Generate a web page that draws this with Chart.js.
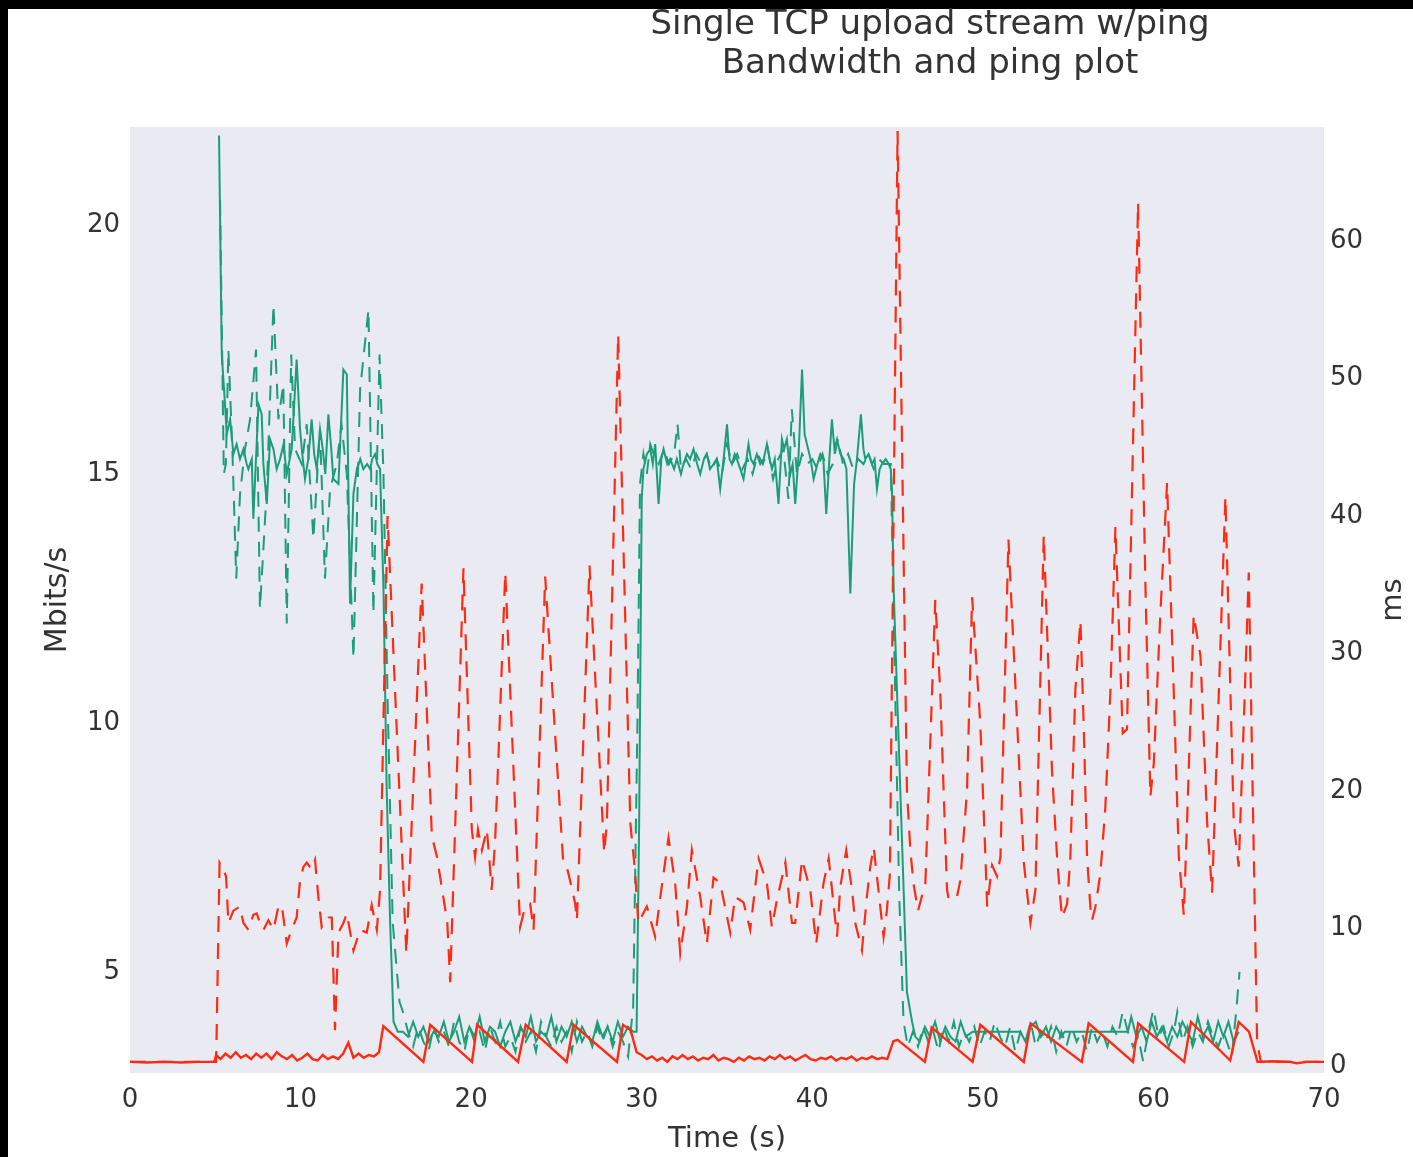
<!DOCTYPE html>
<html>
<head>
<meta charset="utf-8">
<script src="https://cdn.jsdelivr.net/npm/chart.js@4.4.1/dist/chart.umd.min.js"></script>
<style>
  body { margin: 0; background: #fff; }
  #frame { position: relative; width: 1413px; height: 1157px; background: #000; overflow: hidden; }
  #inner { position: absolute; left: 8px; top: 9px; width: 1405px; height: 1148px; background: #fff; }
  #title { position: absolute; left: 530px; top: 3px; width: 800px; text-align: center;
           font: 34px 'DejaVu Sans', sans-serif; line-height: 39px; color: #333; z-index: 2; }
</style>
</head>
<body>
<div id="frame">
  <div id="title">Single TCP upload stream w/ping<br>Bandwidth and ping plot</div>
  <div id="inner"><canvas id="c" width="1405" height="1148"></canvas></div>
</div>
<script>
// tick labels
const xTicks = [0, 10, 20, 30, 40, 50, 60, 70];
const bwTicks = [5, 10, 15, 20];
const pingTicks = [0, 10, 20, 30, 40, 50, 60];

// bandwidth, solid line (Mbits/s)
const bwSolidT = [5.22,5.38,5.57,5.67,5.87,6.06,6.25,6.45,6.65,6.84,6.94,7.14,7.23,7.53,7.72,7.82,8.02,8.21,8.41,8.6,8.8,9.0,9.19,9.48,9.77,9.97,10.1,10.26,10.45,10.65,10.8,10.95,11.14,11.3,11.45,11.63,11.8,11.92,12.22,12.51,12.71,12.9,13.1,13.3,13.5,13.68,13.9,14.08,14.2,14.37,14.5,14.66,14.86,15.05,15.25,15.45,15.7,
  16.0,16.3,16.6,16.9,17.2,17.5,17.8,18.1,18.4,18.7,19.0,19.3,19.6,19.9,20.2,20.5,20.8,21.1,21.4,21.7,22.0,22.3,22.6,22.9,23.2,23.5,23.8,24.1,24.4,24.7,25.0,25.3,25.6,25.9,26.2,26.5,26.8,27.1,27.4,27.7,28.0,28.3,28.6,28.9,29.2,29.5,29.7,29.85,30.0,
  30.1,30.3,30.5,30.65,30.79,30.99,31.15,31.28,31.5,31.67,31.9,32.06,32.3,32.45,32.65,32.84,33.04,33.25,33.43,33.65,33.82,34.0,34.21,34.4,34.6,34.8,35.0,35.15,35.29,35.45,35.58,35.78,35.97,36.1,36.26,36.4,36.56,36.75,36.95,37.15,37.34,37.5,37.64,37.8,38.02,38.22,38.35,38.51,38.71,38.85,39.0,39.2,39.4,39.55,39.69,39.9,40.08,40.3,40.47,40.65,40.82,41.0,41.15,41.3,41.45,41.65,41.84,42.0,42.23,42.45,42.62,42.85,43.0,43.11,43.3,43.5,43.65,43.79,43.95,44.09,44.3,44.48,44.6,44.67,
  44.77,44.96,45.16,45.36,45.55,45.85,46.04,
  46.3,46.6,46.9,47.2,47.5,47.8,48.1,48.4,48.7,49.0,49.4,52.2,52.5,52.8,53.1,53.4,53.7,54.0,54.3,54.6,54.8,58.5,58.7,59.0,59.3,59.6,59.9,60.2,60.5,60.8,61.1,61.4,61.7,62.0,62.3,62.6,62.9,63.2,63.5,63.8,64.1,64.4,64.7,65.0];
const bwSolidV = [21.8,17.4,16.4,15.8,16.1,15.4,15.6,15.3,15.5,15.2,15.1,15.3,14.1,16.4,16.2,15.2,14.4,15.7,15.5,15.1,15.3,15.6,15.0,15.5,17.3,15.9,15.4,14.9,15.3,16.1,15.4,15.1,15.9,15.5,15.0,16.2,15.5,14.9,14.8,17.1,17.0,12.4,14.6,15.1,15.3,15.1,15.2,15.1,15.3,15.4,15.2,15.1,12.7,8.65,6.0,4.0,3.8,
  3.8,3.7,4.0,3.7,3.9,3.6,3.8,3.7,4.0,3.6,3.8,4.1,3.6,3.9,3.7,4.1,3.6,3.9,3.8,3.5,3.8,4.0,3.6,3.9,3.7,4.1,3.6,3.8,3.7,4.1,3.6,3.9,3.7,4.0,3.6,3.9,3.7,3.6,4.0,3.7,3.9,3.6,4.0,3.7,3.9,3.8,3.8,8.0,14.5,
  15.1,15.4,15.5,15.2,15.6,14.4,15.3,15.5,15.2,15.3,15.1,15.3,15.0,15.2,15.4,15.3,15.5,15.2,15.0,15.3,15.4,15.1,15.2,15.3,14.7,15.3,16.0,15.3,15.2,15.4,15.3,15.1,14.9,15.2,15.6,15.3,15.2,15.4,15.2,15.3,15.6,15.3,15.1,15.3,14.4,15.7,15.5,15.7,15.0,15.2,14.4,15.4,17.1,15.8,15.6,15.3,14.9,15.2,15.4,15.3,14.2,15.3,16.1,15.5,15.7,15.4,15.3,15.1,12.6,14.8,15.3,16.2,15.5,15.3,15.4,15.2,15.3,14.7,15.1,15.2,15.3,15.2,15.1,14.7,
  12.7,10.7,8.65,6.6,4.6,4.0,3.7,
  3.6,3.9,3.7,4.0,3.6,3.9,3.7,3.6,4.0,3.7,3.8,3.8,3.6,3.9,4.0,3.7,3.9,3.6,3.9,3.7,3.8,3.8,4.1,3.7,3.9,3.6,4.0,3.7,3.9,3.6,3.9,3.7,4.0,3.8,3.6,4.1,3.7,3.9,3.6,4.0,3.7,4.0,3.6,3.8];

// bandwidth, dashed line (Mbits/s)
const bwDashT = [5.28,5.5,5.62,5.77,6.0,6.23,6.45,6.74,7.04,7.39,7.62,8.02,8.41,8.7,8.99,9.19,9.45,9.68,10.07,10.36,10.75,11.14,11.43,11.73,12.12,12.4,12.71,13.1,13.49,13.98,14.27,14.63,14.86,15.1,15.4,15.8,16.0,
  16.3,16.6,16.9,17.2,17.5,17.8,18.1,18.4,18.7,19.0,19.3,19.6,19.9,20.2,20.5,20.8,21.1,21.4,21.7,22.0,22.3,22.6,22.9,23.2,23.5,23.8,24.1,24.4,24.7,25.0,25.3,25.6,25.9,26.2,26.5,26.8,27.1,27.4,27.7,28.0,28.3,28.6,28.9,29.2,29.5,29.75,29.9,
  30.1,30.3,30.5,30.7,31.0,31.3,31.6,31.9,32.1,32.3,32.6,32.9,33.2,33.5,33.8,34.1,34.4,34.7,35.0,35.3,35.6,35.9,36.2,36.5,36.8,37.1,37.4,37.7,38.0,38.3,38.6,38.8,39.1,39.4,39.7,40.0,40.3,40.6,40.9,41.2,41.5,41.8,42.1,42.4,42.7,43.0,43.3,43.6,43.9,44.2,44.6,
  44.75,45.1,45.35,45.6,
  45.9,46.2,46.5,46.8,47.1,47.4,47.7,48.0,48.3,48.6,48.9,49.2,49.5,49.8,50.1,50.4,50.7,51.0,51.3,51.6,51.9,52.2,52.5,52.8,53.1,53.4,53.7,54.0,54.3,54.6,54.9,55.2,55.5,55.8,56.1,56.4,56.7,57.0,57.3,57.6,57.9,58.2,58.5,58.8,59.1,59.4,59.7,60.0,60.3,60.6,60.9,61.2,61.4,61.7,62.0,62.3,62.6,62.9,63.2,63.5,63.8,64.1,64.4,64.6,64.85,65.05];
const bwDashV = [20.5,15.0,15.2,17.5,15.5,12.9,14.6,15.5,16.1,17.5,12.3,14.7,18.4,16.1,16.8,12.0,17.4,15.5,15.2,16.0,13.7,15.9,12.9,14.7,15.2,16.0,15.0,11.3,16.7,18.3,12.2,17.4,15.0,10.5,6.0,4.4,4.2,
  3.8,3.5,3.9,3.6,3.4,3.9,3.6,3.8,3.5,4.0,3.6,3.4,3.9,3.6,3.8,3.4,3.9,3.6,4.0,3.5,3.7,3.4,3.9,3.6,3.8,3.4,4.0,3.7,3.5,3.9,3.6,3.8,3.4,4.0,3.6,3.8,3.5,3.9,3.6,3.9,3.5,3.8,3.6,3.3,4.3,10.0,14.8,
  15.4,15.0,15.6,15.4,15.2,15.5,15.2,15.4,16.0,15.1,15.3,15.1,15.4,15.2,15.4,15.1,15.3,15.0,15.6,15.2,15.4,15.1,15.3,15.0,15.4,15.2,15.5,14.9,15.3,15.5,14.5,16.3,15.0,15.4,15.2,15.3,15.1,15.4,15.0,15.2,15.7,15.2,15.4,15.1,15.3,15.2,15.4,15.1,15.3,15.2,15.2,
  12.5,6.5,4.0,3.5,
  3.8,3.5,3.9,3.6,3.8,3.4,3.9,3.6,4.0,3.5,3.8,3.6,3.9,3.5,3.8,3.6,4.0,3.7,3.5,3.9,3.4,3.8,3.6,4.0,3.5,3.8,3.6,3.9,3.4,3.8,3.5,3.9,3.6,3.8,3.4,3.9,3.6,3.8,3.5,3.9,3.7,4.2,3.8,3.5,3.7,3.2,3.8,4.25,3.7,3.9,3.5,3.8,4.2,3.6,3.9,3.5,3.8,3.6,4.0,3.7,3.5,3.8,3.5,3.3,4.2,5.0];

// ping, solid line (ms)
const pingSolidT = [0,1.0,2.0,3.0,4.0,4.95,5.05,5.3,5.6,5.9,6.2,6.5,6.8,7.1,7.4,7.7,8.0,8.3,8.6,8.9,9.2,9.5,9.8,10.1,10.4,10.7,11.0,11.3,11.6,11.9,12.2,12.5,12.8,13.1,13.4,13.7,14.0,14.3,14.6,
  14.85,17.2,17.6,20.05,20.35,22.75,23.2,25.6,26.0,28.55,28.9,29.35,29.7,
  30.0,30.3,30.6,30.9,31.2,31.5,31.8,32.1,32.4,32.7,33.0,33.3,33.6,33.9,34.2,34.5,34.8,35.1,35.4,35.7,36.0,36.3,36.6,36.9,37.2,37.5,37.8,38.1,38.4,38.7,39.0,39.3,39.6,39.9,40.2,40.5,40.8,41.1,41.4,41.7,42.0,42.3,42.6,42.9,43.2,43.5,43.8,44.1,44.4,
  44.75,45.0,45.2,46.6,47.0,49.4,49.85,52.4,52.8,55.8,56.2,58.8,59.1,61.8,62.2,64.5,65.0,65.6,66.1,67.0,68.0,68.4,69.0,70];
const pingSolidV = [0.3,0.25,0.3,0.25,0.3,0.3,0.8,0.5,0.9,0.6,1.0,0.6,0.8,0.5,0.9,0.6,0.9,0.5,1.0,0.7,0.5,0.8,0.4,0.6,0.9,0.5,0.4,0.8,0.5,0.7,0.5,0.9,1.7,0.6,0.9,0.6,0.8,0.7,1.0,
  2.9,0.3,3.0,0.3,3.0,0.3,3.0,0.3,3.0,0.3,3.0,2.6,1.0,
  0.8,0.5,0.7,0.4,0.6,0.3,0.7,0.5,0.8,0.5,0.7,0.4,0.6,0.5,0.8,0.4,0.6,0.5,0.3,0.6,0.4,0.7,0.5,0.6,0.4,0.7,0.5,0.8,0.5,0.7,0.4,0.6,0.8,0.5,0.4,0.6,0.5,0.7,0.4,0.6,0.5,0.7,0.4,0.6,0.5,0.7,0.5,0.6,0.5,
  1.8,1.9,1.7,0.3,2.8,0.3,3.0,0.3,3.1,0.3,3.1,0.3,3.1,0.3,3.2,0.4,3.2,2.5,0.3,0.35,0.3,0.2,0.3,0.3];

// ping, dashed line (ms)
const pingDashT = [0,5.05,5.25,5.4,5.63,5.77,6.06,6.45,6.65,6.94,7.23,7.43,7.62,7.82,8.11,8.41,8.7,8.9,9.19,9.48,9.77,9.97,10.17,10.36,10.65,10.85,11.04,11.24,11.63,11.83,12.02,12.22,12.51,12.71,13.1,13.49,13.88,14.17,14.47,14.66,
  15.1,16.2,17.1,17.7,18.0,18.3,18.6,18.77,19.55,20.04,20.23,20.4,20.63,20.92,21.1,21.2,21.4,21.6,22.0,22.87,23.17,23.46,23.66,24.34,25.4,25.6,25.8,26.1,26.2,26.94,27.8,27.96,28.62,29.33,29.62,29.8,
  30.3,30.79,31.09,31.57,31.96,32.26,32.65,32.94,33.43,33.82,34.21,34.6,35.19,35.48,35.97,36.36,36.85,37.34,37.63,37.93,38.42,38.81,39.0,39.4,39.88,40.23,40.66,40.96,41.45,41.64,41.99,42.33,42.52,42.91,43.2,43.4,43.6,43.79,44.18,44.38,44.55,
  45.0,45.55,45.75,45.93,46.2,46.63,47.21,47.5,47.9,48.0,48.48,48.68,49.07,49.37,49.85,50.15,50.25,50.54,50.83,51.03,51.5,52.4,52.79,53.08,53.57,54.06,54.35,54.5,54.64,54.94,55.13,55.42,55.72,55.91,56.11,56.3,56.4,56.6,56.89,57.18,57.48,57.77,58.2,58.45,59.1,59.53,59.82,60.02,60.41,60.8,61.19,61.49,61.78,61.97,62.36,62.76,63.15,63.44,63.83,64.22,64.71,65.0,65.3,65.59,66.08,66.3,70];
const pingDashV = [0.3,0.3,14.8,14.5,13.8,10.4,11.3,11.6,10.4,9.9,11.0,11.1,10.4,9.9,10.6,9.9,11.6,11.7,8.9,9.9,10.8,13.5,14.5,14.8,14.3,15.0,12.3,10.1,10.8,10.8,2.6,9.7,10.4,11.1,8.4,9.9,9.7,11.7,9.9,12.8,
  40.0,8.2,35.1,16.7,15.2,12.8,10.5,6.1,36.2,17.2,15.2,17.2,15.7,17.2,14.5,12.8,16.2,22.5,35.9,10.1,11.6,11.8,9.9,35.6,14.8,14.5,13.5,11.8,10.6,36.4,15.5,17.7,53.2,17.7,14.0,10.4,
  11.6,9.4,12.3,16.6,13.3,8.2,11.6,15.7,12.3,8.9,13.7,13.3,9.7,12.3,11.9,9.9,15.1,13.3,10.1,12.1,14.8,10.4,10.4,15.0,12.8,8.9,13.3,15.1,9.4,13.0,15.7,12.8,10.4,8.4,12.3,14.5,15.9,13.8,9.4,11.4,14.0,
  68.0,20.0,15.7,13.3,11.3,13.3,33.9,27.3,12.8,12.1,12.3,13.5,20.0,34.1,24.9,15.2,11.6,14.6,13.8,15.2,38.3,14.8,10.4,12.8,38.6,21.3,15.2,12.8,10.8,11.8,15.2,27.3,32.4,24.9,15.2,11.6,10.6,11.6,14.0,18.8,27.3,39.2,24.2,24.5,62.8,35.0,19.6,22.0,33.0,42.4,27.3,15.2,11.0,17.7,32.8,29.8,17.7,12.6,27.0,41.4,17.7,14.5,25.0,35.9,1.7,0.3,0.3];

const GREEN = '#1b9e77';
const RED = '#ff2a12';
const TEXT = '#333333';

const pts = (t, v) => t.map((x, i) => ({ x: x, y: v[i] }));

const plotBg = {
  id: 'plotBg',
  beforeDraw(chart) {
    const { ctx, chartArea: a } = chart;
    ctx.save();
    ctx.fillStyle = '#eaeaf2';
    ctx.fillRect(a.left, a.top, a.right - a.left, a.bottom - a.top);
    ctx.restore();
  }
};

// right axis label reads bottom-to-top like the left one
const rightLabel = {
  id: 'rightLabel',
  afterDraw(chart) {
    const { ctx, chartArea: a } = chart;
    ctx.save();
    ctx.translate(1385, (a.top + a.bottom) / 2);
    ctx.rotate(-Math.PI / 2);
    ctx.font = "29px 'DejaVu Sans'";
    ctx.fillStyle = TEXT;
    ctx.textAlign = 'center';
    ctx.textBaseline = 'middle';
    ctx.fillText('ms', 0, 0);
    ctx.restore();
  }
};

new Chart(document.getElementById('c'), {
  type: 'line',
  data: {
    datasets: [
      { label: 'bw', data: pts(bwSolidT, bwSolidV), yAxisID: 'y', borderColor: GREEN, borderWidth: 2, order: 3 },
      { label: 'bw dashed', data: pts(bwDashT, bwDashV), yAxisID: 'y', borderColor: GREEN, borderWidth: 2, borderDash: [15, 10], order: 2 },
      { label: 'ping dashed', data: pts(pingDashT, pingDashV), yAxisID: 'y1', borderColor: RED, borderWidth: 2.2, borderDash: [16, 11], order: 1 },
      { label: 'ping', data: pts(pingSolidT, pingSolidV), yAxisID: 'y1', borderColor: RED, borderWidth: 2.4, order: 0 }
    ]
  },
  options: {
    responsive: false,
    animation: false,
    events: [],
    elements: { point: { radius: 0 }, line: { tension: 0, fill: false } },
    layout: { padding: { top: 118, left: 0, right: 0, bottom: 0 } },
    plugins: { legend: { display: false }, tooltip: { enabled: false } },
    scales: {
      x: {
        type: 'linear', min: 0, max: 70,
        afterBuildTicks: (s) => { s.ticks = xTicks.map(v => ({ value: v })); },
        afterFit: (s) => { s.height = 84; },
        grid: { display: false, drawTicks: false },
        border: { display: false },
        ticks: { font: { family: 'DejaVu Sans', size: 26 }, color: TEXT, padding: 12, maxRotation: 0 },
        title: { display: true, text: 'Time (s)', font: { family: 'DejaVu Sans', size: 29 }, color: TEXT, padding: 0 }
      },
      y: {
        position: 'left', min: 2.97, max: 21.97,
        afterBuildTicks: (s) => { s.ticks = bwTicks.map(v => ({ value: v })); },
        afterFit: (s) => { s.width = 122; },
        grid: { display: false, drawTicks: false },
        border: { display: false },
        ticks: { font: { family: 'DejaVu Sans', size: 26 }, color: TEXT, padding: 10 },
        title: { display: true, text: 'Mbits/s', font: { family: 'DejaVu Sans', size: 30 }, color: TEXT, padding: { top: 32 } }
      },
      y1: {
        position: 'right', min: -0.51, max: 68.3,
        afterBuildTicks: (s) => { s.ticks = pingTicks.map(v => ({ value: v })); },
        afterFit: (s) => { s.width = 89; },
        grid: { display: false, drawTicks: false },
        border: { display: false },
        ticks: { font: { family: 'DejaVu Sans', size: 26 }, color: TEXT, padding: 6 }
      }
    }
  },
  plugins: [plotBg, rightLabel]
});
</script>
</body>
</html>
